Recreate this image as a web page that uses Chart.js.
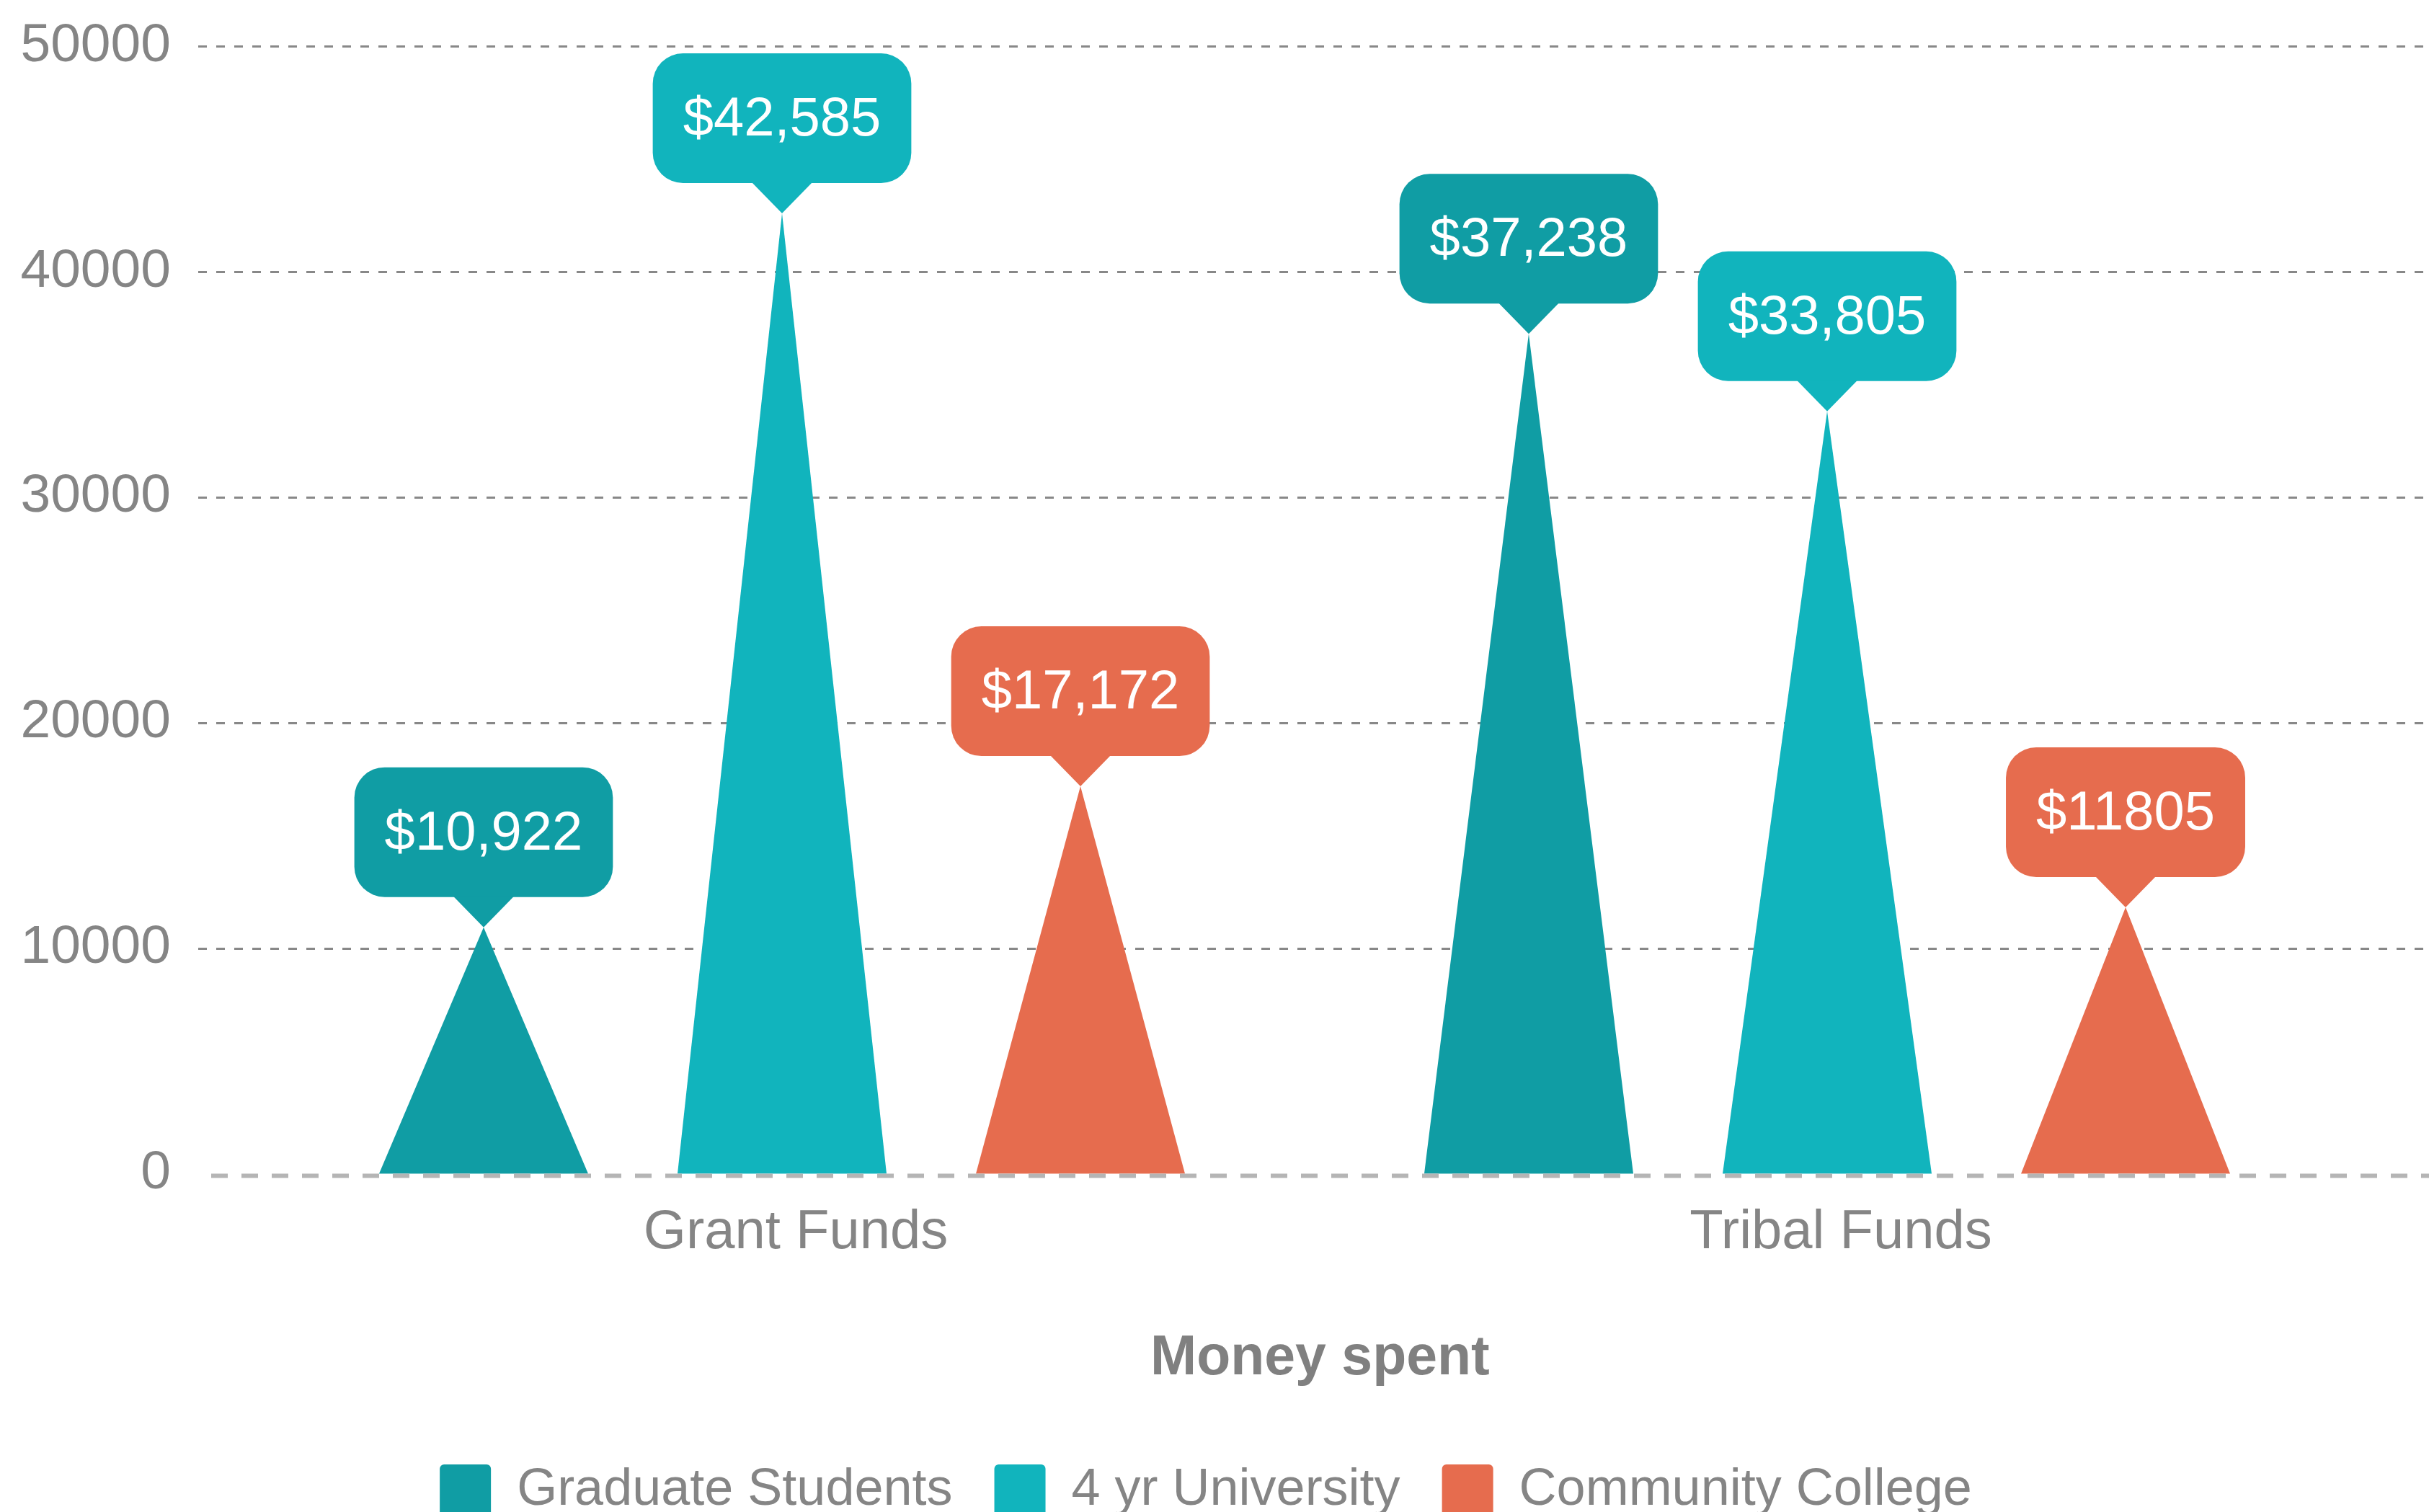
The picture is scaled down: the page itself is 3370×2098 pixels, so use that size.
<!DOCTYPE html>
<html>
<head>
<meta charset="utf-8">
<script src="https://cdn.jsdelivr.net/npm/chart.js@4.4.1/dist/chart.umd.min.js"></script>
<style>
  html, body { margin: 0; padding: 0; background: #fff; overflow: hidden; }
  canvas { display: block; }
</style>
</head>
<body>
<canvas id="chart" width="3370" height="2114"></canvas>
<script>
'use strict';

// data
const categories = ['Grant Funds', 'Tribal Funds'];
const seriesNames = ['Graduate Students', '4 yr University', 'Community College'];
const graduateValues = [10922, 37238];
const universityValues = [42585, 33805];
const collegeValues = [17172, 11805];
const graduateLabels = ['$10,922', '$37,238'];
const universityLabels = ['$42,585', '$33,805'];
const collegeLabels = ['$17,172', '$11805'];
const yTicks = [0, 10000, 20000, 30000, 40000, 50000];

const seriesColors = ['#109DA4', '#11B4BD', '#E66C4E'];
const FONT = 'Arial, "Liberation Sans", sans-serif';
const GREY = '#858585';

function roundRectPath(ctx, x, y, w, h, r) {
    ctx.beginPath();
    ctx.moveTo(x + r, y);
    ctx.arcTo(x + w, y, x + w, y + h, r);
    ctx.arcTo(x + w, y + h, x, y + h, r);
    ctx.arcTo(x, y + h, x, y, r);
    ctx.arcTo(x, y, x + w, y, r);
    ctx.closePath();
}

// triangles instead of bars, dashed grid, and the speech bubble labels
const trianglePlugin = {
    id: 'trianglePlugin',
    beforeDatasetsDraw(chart) {
        const { ctx, scales: { y } } = chart;
        ctx.save();
        ctx.strokeStyle = '#888888';
        ctx.lineWidth = 3;
        ctx.setLineDash([12, 13]);
        yTicks.forEach(v => {
            if (v === 0) return;
            const py = Math.round(y.getPixelForValue(v)) + 0.5;
            ctx.beginPath();
            ctx.moveTo(275, py);
            ctx.lineTo(chart.width, py);
            ctx.stroke();
        });
        ctx.restore();
    },
    beforeDatasetDraw(chart, args) {
        const { ctx } = chart;
        const ds = chart.data.datasets[args.index];
        ctx.save();
        ctx.fillStyle = ds.backgroundColor;
        args.meta.data.forEach(bar => {
            const { x, y, base, width } = bar.getProps(['x', 'y', 'base', 'width'], true);
            ctx.beginPath();
            ctx.moveTo(x - width / 2, base);
            ctx.lineTo(x, y);
            ctx.lineTo(x + width / 2, base);
            ctx.closePath();
            ctx.fill();
        });
        ctx.restore();
        return false;
    },
    afterDatasetsDraw(chart) {
        const { ctx, scales: { y } } = chart;
        ctx.save();
        // zero line
        const py0 = y.getPixelForValue(0) + 3;
        ctx.strokeStyle = '#B5B5B5';
        ctx.lineWidth = 6;
        ctx.setLineDash([23, 19]);
        ctx.beginPath();
        ctx.moveTo(293, py0);
        ctx.lineTo(chart.width, py0);
        ctx.stroke();
        ctx.setLineDash([]);

        // bubbles
        ctx.font = `76px ${FONT}`;
        ctx.textAlign = 'center';
        ctx.textBaseline = 'middle';
        chart.data.datasets.forEach((ds, i) => {
            const meta = chart.getDatasetMeta(i);
            meta.data.forEach((bar, j) => {
                const { x, y: tipY } = bar.getProps(['x', 'y'], true);
                const text = ds.bubbleLabels[j];
                const w = ctx.measureText(text).width + 84;
                const h = 180;
                const bottom = tipY - 42;
                const top = bottom - h;
                ctx.fillStyle = ds.backgroundColor;
                roundRectPath(ctx, x - w / 2, top, w, h, 42);
                ctx.fill();
                ctx.beginPath();
                ctx.moveTo(x - 42, bottom - 1);
                ctx.lineTo(x + 42, bottom - 1);
                ctx.lineTo(x, tipY);
                ctx.closePath();
                ctx.fill();
                ctx.fillStyle = '#ffffff';
                ctx.fillText(text, x, top + h / 2 + 3);
            });
        });
        ctx.restore();
    }
};

const ctx = document.getElementById('chart').getContext('2d');
new Chart(ctx, {
    type: 'bar',
    data: {
        labels: categories,
        datasets: [
            { label: seriesNames[0], data: graduateValues, bubbleLabels: graduateLabels, backgroundColor: seriesColors[0] },
            { label: seriesNames[1], data: universityValues, bubbleLabels: universityLabels, backgroundColor: seriesColors[1] },
            { label: seriesNames[2], data: collegeValues, bubbleLabels: collegeLabels, backgroundColor: seriesColors[2] }
        ]
    },
    options: {
        responsive: false,
        devicePixelRatio: 1,
        animation: false,
        categoryPercentage: 0.8566,
        barPercentage: 0.7005,
        layout: { padding: { top: 64, right: 24, bottom: 0, left: 0 } },
        plugins: {
            tooltip: { enabled: false },
            legend: {
                position: 'bottom',
                labels: {
                    boxWidth: 71,
                    boxHeight: 72,
                    padding: 58,
                    useBorderRadius: true,
                    borderRadius: 6,
                    color: GREY,
                    font: { family: FONT, size: 72 }
                }
            }
        },
        scales: {
            x: {
                grid: { display: false, drawTicks: false },
                border: { display: false },
                ticks: { color: GREY, padding: 37, labelOffset: 19, font: { family: FONT, size: 76 } },
                title: {
                    display: true,
                    // leading spaces nudge the title right like in the original
                    text: '\u00A0\u00A0Money spent',
                    color: '#808080',
                    padding: { top: 46, bottom: 42 },
                    font: { family: FONT, size: 77, weight: 'bold' }
                }
            },
            y: {
                min: yTicks[0],
                max: yTicks[yTicks.length - 1],
                grid: { display: false, drawTicks: false },
                border: { display: false },
                ticks: {
                    stepSize: 10000,
                    padding: 123,
                    color: GREY,
                    font: { family: FONT, size: 75 },
                    callback: v => String(v)
                },
                afterFit(scale) {
                    scale.width = 360;
                    // tick padding is horizontal only here
                    scale.paddingTop = 0;
                    scale.paddingBottom = 0;
                }
            },
            yRight: {
                position: 'right',
                grid: { display: false, drawTicks: false },
                border: { display: false },
                ticks: { display: false },
                afterFit(scale) { scale.width = 86; }
            }
        }
    },
    plugins: [trianglePlugin]
});
</script>
</body>
</html>
